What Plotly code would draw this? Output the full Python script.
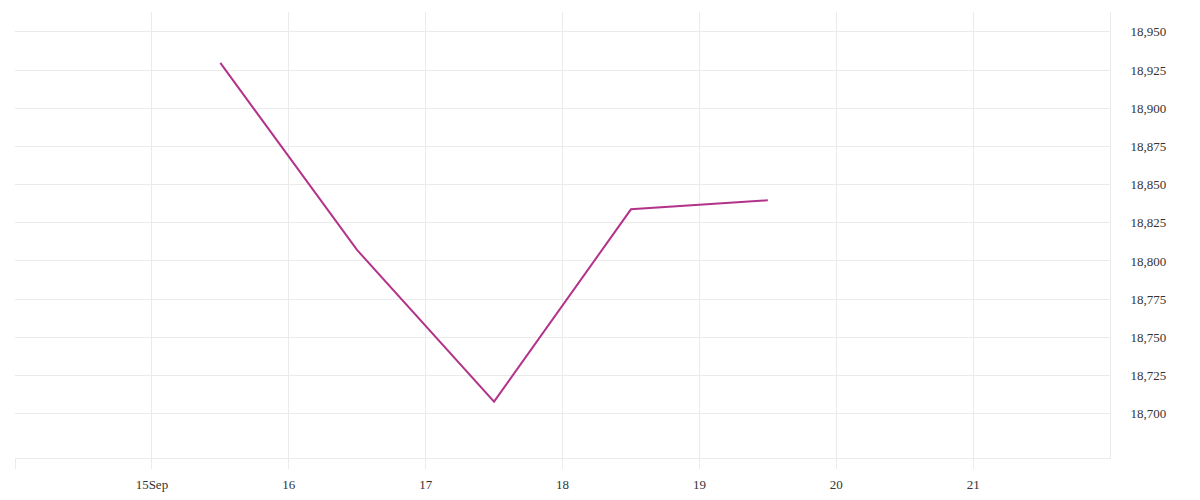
import pandas as pd
import plotly.graph_objects as go

# daily values, plotted at midday
dates = ["2023-09-15 12:00", "2023-09-16 12:00", "2023-09-17 12:00",
         "2023-09-18 12:00", "2023-09-19 12:00"]
values = [18929.7, 18807.1, 18707.9, 18833.8, 18839.7]

x_ticks = ["2023-09-14", "2023-09-15", "2023-09-16", "2023-09-17",
           "2023-09-18", "2023-09-19", "2023-09-20", "2023-09-21"]
x_labels = ["", "15Sep", "16", "17", "18", "19", "20", "21"]
y_ticks = [18700, 18725, 18750, 18775, 18800, 18825, 18850, 18875, 18900, 18925, 18950]

grid = "#ebebeb"
font = dict(family="Liberation Serif", size=13, color="#333333")

fig = go.Figure()
fig.add_trace(go.Scatter(
    x=pd.to_datetime(dates), y=values, mode="lines",
    line=dict(color="#b3338b", width=2),
    showlegend=False,
))

# page body has an 8px margin, so the margins are set relative to that
fig.update_layout(
    width=1200, height=500,
    margin=dict(l=7, r=98, t=4, b=50),
    paper_bgcolor="white", plot_bgcolor="white",
    font=font,
)
fig.update_xaxes(
    type="date",
    range=["2023-09-14", "2023-09-22"],
    tickvals=pd.to_datetime(x_ticks), ticktext=x_labels,
    showgrid=True, gridcolor=grid, gridwidth=1,
    showline=True, linecolor=grid, linewidth=1,
    ticks="outside", ticklen=10, tickcolor=grid,
    ticklabelstandoff=4,
    zeroline=False,
)
fig.update_yaxes(
    side="right",
    range=[18671, 18963],
    tickvals=y_ticks, tickformat=",d",
    showgrid=True, gridcolor=grid, gridwidth=1,
    showline=True, linecolor=grid, linewidth=1,
    ticks="", ticklabelstandoff=17,
    zeroline=False,
)

fig.write_html("out.html")
